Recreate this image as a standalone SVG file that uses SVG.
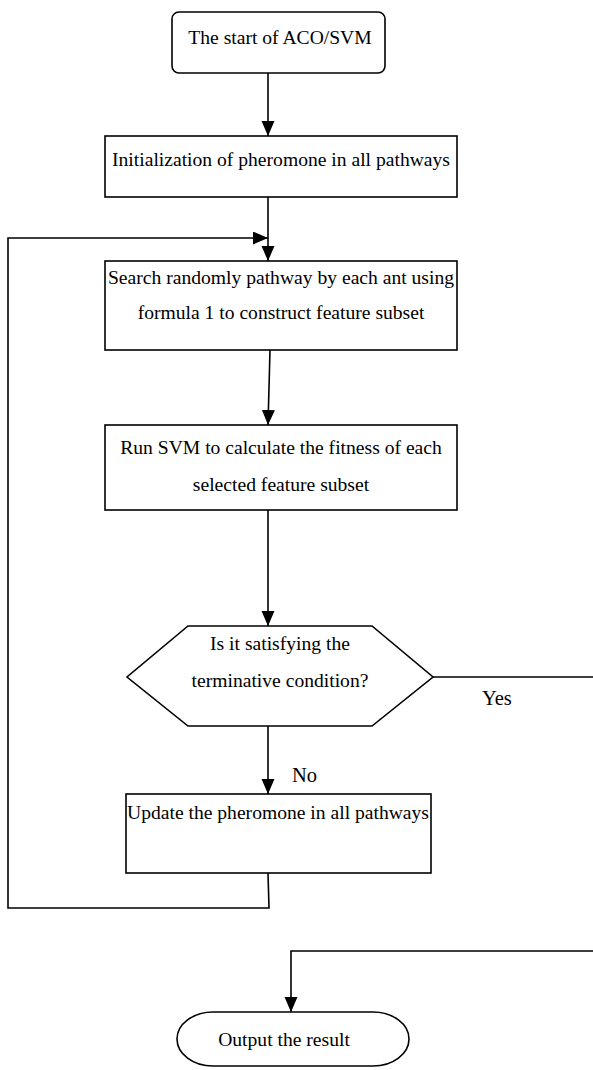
<svg xmlns="http://www.w3.org/2000/svg" width="593" height="1070" viewBox="0 0 593 1070">
<style>
.box{fill:#fff;stroke:#000;stroke-width:1.6}
.t{font-family:"Liberation Serif","Times New Roman","DejaVu Serif",serif;font-size:19.6px;fill:#000;text-anchor:middle}
.lbl{font-family:"Liberation Serif","Times New Roman","DejaVu Serif",serif;font-size:20.5px;fill:#000}
.c{fill:none;stroke:#000;stroke-width:1.6}
</style>
<defs>
<marker id="ah" markerUnits="userSpaceOnUse" markerWidth="16" markerHeight="14" refX="15" refY="6.5" orient="auto">
<path d="M0,0 L15,6.5 L0,13 Z" fill="#000"/>
</marker>
</defs>
<rect width="593" height="1070" fill="#fff"/>
<g id="connectors">
<path class="c" d="M268,73 V136" marker-end="url(#ah)"/>
<path class="c" d="M268,197 V261" marker-end="url(#ah)"/>
<path class="c" d="M268,873 L269,908 H8 V238 H268" marker-end="url(#ah)"/>
<path class="c" d="M270,350 L268,425" marker-end="url(#ah)"/>
<path class="c" d="M268,510 V626" marker-end="url(#ah)"/>
<path class="c" d="M268,726 V794" marker-end="url(#ah)"/>
<path class="c" d="M433,677 H600 V951 H291 V1012" marker-end="url(#ah)"/>
<text class="lbl" x="292" y="782">No</text>
<text class="lbl" x="482" y="705">Yes</text>
</g>
<g id="start">
<rect class="box" x="172" y="12" width="213" height="61" rx="7"/>
<text class="t" x="280" y="44">The start of ACO/SVM</text>
</g>
<g id="init">
<rect class="box" x="105" y="136" width="352" height="61"/>
<text class="t" x="281" y="166">Initialization of pheromone in all pathways</text>
</g>
<g id="search">
<rect class="box" x="105" y="261" width="352" height="89"/>
<text class="t" x="281" y="284">Search randomly pathway by each ant using</text>
<text class="t" x="281" y="319">formula 1 to construct feature subset</text>
</g>
<g id="svm">
<rect class="box" x="105" y="425" width="352" height="85"/>
<text class="t" x="281" y="454">Run SVM to calculate the fitness of each</text>
<text class="t" x="281" y="491">selected feature subset</text>
</g>
<g id="decision">
<polygon class="box" points="188,626 372,626 433,677 372,726 188,726 127,677"/>
<text class="t" x="280" y="650">Is it satisfying the</text>
<text class="t" x="280" y="687">terminative condition?</text>
</g>
<g id="update">
<rect class="box" x="126" y="794" width="305" height="79"/>
<text class="t" x="278" y="819">Update the pheromone in all pathways</text>
</g>
<g id="output">
<path class="box" d="M213,1012 H373 A36,27 0 0 1 373,1066 H213 A36,27 0 0 1 213,1012 Z"/>
<text class="t" x="284" y="1046">Output the result</text>
</g>
</svg>
